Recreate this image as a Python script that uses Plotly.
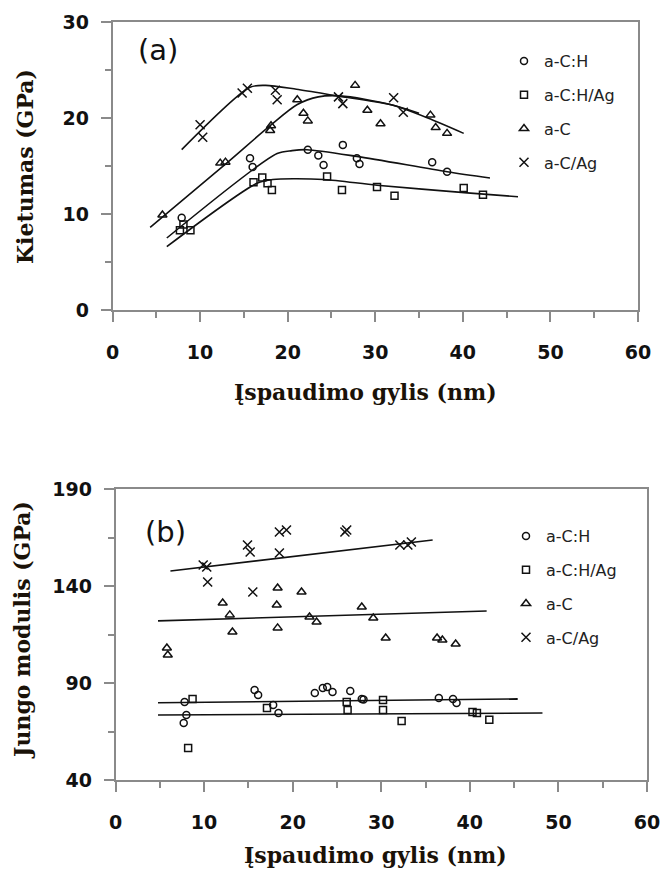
import plotly.graph_objects as go

# ---------------- Panel (a): hardness ----------------
a_ch_x = [7.9, 15.7, 16.0, 22.3, 23.5, 24.1, 26.3, 27.9, 28.2, 36.5, 38.2]
a_ch_y = [9.6, 15.8, 14.9, 16.7, 16.1, 15.1, 17.2, 15.8, 15.2, 15.4, 14.4]
a_chag_x = [7.7, 8.1, 8.9, 16.1, 17.1, 17.7, 18.2, 24.5, 26.2, 30.2, 32.2, 40.1, 42.3]
a_chag_y = [8.3, 8.9, 8.3, 13.3, 13.8, 13.2, 12.5, 13.9, 12.5, 12.8, 11.9, 12.7, 12.0]
a_c_x = [5.7, 12.3, 12.9, 18.0, 18.1, 21.1, 21.8, 22.3, 27.7, 29.1, 30.6, 36.3, 36.9, 38.2]
a_c_y = [9.9, 15.3, 15.4, 18.7, 19.2, 21.9, 20.5, 19.7, 23.4, 20.8, 19.4, 20.3, 19.0, 18.4]
a_cag_x = [10.0, 10.3, 14.8, 15.4, 18.6, 18.8, 25.8, 26.3, 32.1, 33.2]
a_cag_y = [19.3, 18.0, 22.6, 23.1, 22.9, 21.9, 22.2, 21.5, 22.1, 20.6]

fit_a_ch_x = [6.2, 18.8, 20.5, 22.2, 27.9, 38.2, 43.1]
fit_a_ch_y = [7.5, 16.3, 16.6, 16.7, 16.0, 14.4, 13.75]
fit_a_chag_x = [6.2, 16.5, 18.3, 24.1, 30.2, 40.5, 46.3]
fit_a_chag_y = [6.6, 13.2, 13.6, 13.6, 13.0, 12.2, 11.8]
fit_a_c_x = [4.3, 12.9, 18.0, 21.1, 23.5, 26.0, 31.7, 36.0, 40.1]
fit_a_c_y = [8.6, 15.2, 19.2, 21.4, 22.2, 22.3, 21.4, 20.0, 18.4]
fit_a_cag_x = [7.9, 15.7, 17.5, 21.0, 25.7, 31.7, 35.0]
fit_a_cag_y = [16.7, 23.2, 23.4, 23.0, 22.3, 21.4, 20.5]

# ---------------- Panel (b): Young's modulus ----------------
b_ch_x = [7.8, 8.0, 7.7, 15.7, 16.1, 17.8, 18.4, 22.5, 23.4, 23.9, 24.5, 26.5, 27.8, 28.0, 36.5, 38.1, 38.5]
b_ch_y = [80.2, 73.5, 69.4, 86.4, 83.8, 78.7, 74.5, 84.8, 87.4, 87.9, 85.4, 85.9, 81.8, 81.5, 82.3, 81.8, 79.7]
b_chag_x = [8.7, 8.2, 17.1, 26.1, 26.2, 30.2, 30.2, 32.3, 40.3, 40.8, 42.2]
b_chag_y = [81.8, 56.5, 77.1, 80.2, 76.1, 81.2, 76.1, 70.4, 75.0, 74.5, 71.0]
b_c_x = [5.8, 5.9, 12.1, 12.9, 13.2, 18.3, 18.2, 18.3, 21.0, 21.9, 22.7, 27.8, 29.1, 30.5, 36.3, 36.9, 38.4]
b_c_y = [108.0, 104.4, 131.2, 125.1, 116.3, 139.0, 130.2, 118.4, 136.9, 124.0, 121.4, 129.2, 123.5, 113.2, 113.2, 112.2, 110.1]
b_cag_x = [9.9, 10.3, 10.4, 14.9, 15.2, 15.5, 18.5, 19.3, 18.5, 25.9, 26.1, 32.1, 33.0, 33.4]
b_cag_y = [150.8, 149.8, 142.1, 161.1, 157.5, 136.9, 167.8, 168.9, 157.0, 167.8, 168.9, 161.1, 161.1, 162.7]

fit_b_ch_x = [4.8, 45.4]
fit_b_ch_y = [79.8, 81.8]
fit_b_chag_x = [4.8, 48.2]
fit_b_chag_y = [73.5, 74.5]
fit_b_c_x = [4.8, 41.9]
fit_b_c_y = [122.0, 127.1]
fit_b_cag_x = [6.2, 35.8]
fit_b_cag_y = [147.7, 163.7]

series_names = ["a-C:H", "a-C:H/Ag", "a-C", "a-C/Ag"]
x_ticks = [0, 10, 20, 30, 40, 50, 60]
ya_ticks = [0, 10, 20, 30]
yb_ticks = [40, 90, 140, 190]

W, H = 665, 872
def px(x):
    return x / W
def py(y):
    return 1 - y / H

symbols = ["circle-open", "square-open", "triangle-up-open", "x-thin-open"]
sizes = [7, 7, 8, 9]

fig = go.Figure()

panel_a = [(a_ch_x, a_ch_y), (a_chag_x, a_chag_y), (a_c_x, a_c_y), (a_cag_x, a_cag_y)]
fits_a = [(fit_a_ch_x, fit_a_ch_y), (fit_a_chag_x, fit_a_chag_y), (fit_a_c_x, fit_a_c_y), (fit_a_cag_x, fit_a_cag_y)]
panel_b = [(b_ch_x, b_ch_y), (b_chag_x, b_chag_y), (b_c_x, b_c_y), (b_cag_x, b_cag_y)]
fits_b = [(fit_b_ch_x, fit_b_ch_y), (fit_b_chag_x, fit_b_chag_y), (fit_b_c_x, fit_b_c_y), (fit_b_cag_x, fit_b_cag_y)]

for (fx, fy) in fits_a:
    fig.add_trace(go.Scatter(x=fx, y=fy, mode="lines", line=dict(color="#111", width=1.6, shape="spline", smoothing=0.8),
                             showlegend=False, hoverinfo="skip", xaxis="x", yaxis="y"))
for i, (sx, sy) in enumerate(panel_a):
    fig.add_trace(go.Scatter(x=sx, y=sy, mode="markers", name=series_names[i],
                             marker=dict(symbol=symbols[i], size=sizes[i], color="#111", line=dict(width=1.5, color="#111")),
                             legend="legend", legendgroup="a" + str(i), xaxis="x", yaxis="y"))

for (fx, fy) in fits_b:
    fig.add_trace(go.Scatter(x=fx, y=fy, mode="lines", line=dict(color="#111", width=1.6),
                             showlegend=False, hoverinfo="skip", xaxis="x2", yaxis="y2"))
for i, (sx, sy) in enumerate(panel_b):
    fig.add_trace(go.Scatter(x=sx, y=sy, mode="markers", name=series_names[i],
                             marker=dict(symbol=symbols[i], size=sizes[i], color="#111", line=dict(width=1.5, color="#111")),
                             legend="legend2", legendgroup="b" + str(i), xaxis="x2", yaxis="y2"))

axcol = "#8a8a8a"
tickfont = dict(family="DejaVu Sans", size=19, color="#111", weight="bold")

def xaxis(domain, anchor):
    return dict(domain=domain, anchor=anchor, range=[0, 60], tickvals=x_ticks, ticktext=[str(v) for v in x_ticks],
                showgrid=False, zeroline=False, showline=True, mirror=True, linecolor=axcol, linewidth=1.5,
                ticks="outside", ticklen=10, tickwidth=1.5, tickcolor=axcol, tickfont=tickfont,
                ticklabelstandoff=14, automargin=False,
                minor=dict(dtick=5, tick0=0, ticks="outside", ticklen=6, tickwidth=1.5, tickcolor=axcol, showgrid=False))

def yaxis(domain, anchor, rng, vals, mdt, mt0):
    return dict(domain=domain, anchor=anchor, range=rng, tickvals=vals, ticktext=[str(v) for v in vals],
                showgrid=False, zeroline=False, showline=True, mirror=True, linecolor=axcol, linewidth=1.5,
                ticks="outside", ticklen=10, tickwidth=1.5, tickcolor=axcol, tickfont=tickfont,
                ticklabelstandoff=8, automargin=False,
                minor=dict(dtick=mdt, tick0=mt0, ticks="outside", ticklen=6, tickwidth=1.5, tickcolor=axcol, showgrid=False))

legfont = dict(family="DejaVu Sans", size=16, color="#222")

fig.update_layout(
    width=W, height=H,
    margin=dict(l=0, r=0, t=0, b=0, pad=0),
    paper_bgcolor="white", plot_bgcolor="white",
    xaxis=xaxis([px(112.5), px(638)], "y"),
    yaxis=yaxis([py(310), py(22)], "x", [0, 30], ya_ticks, 5, 0),
    xaxis2=xaxis([px(115.5), px(647)], "y2"),
    yaxis2=yaxis([py(780), py(489)], "x2", [40, 190], yb_ticks, 25, 40),
    legend=dict(x=px(504), y=py(44), xanchor="left", yanchor="top", bgcolor="rgba(0,0,0,0)",
                font=legfont, tracegroupgap=10, itemwidth=30),
    legend2=dict(x=px(506), y=py(519), xanchor="left", yanchor="top", bgcolor="rgba(0,0,0,0)",
                 font=legfont, tracegroupgap=10, itemwidth=30),
    showlegend=True,
)

titlefont = dict(family="DejaVu Serif", size=22, color="#1a1208")
ann = [
    dict(text="(a)", x=px(158), y=py(50), font=dict(family="DejaVu Sans", size=29, color="#111")),
    dict(text="(b)", x=px(165), y=py(532), font=dict(family="DejaVu Sans", size=29, color="#111")),
    dict(text="<b>Kietumas (GPa)</b>", x=px(25), y=py(167), textangle=-90, font=titlefont),
    dict(text="<b>Jungo modulis (GPa)</b>", x=px(22), y=py(630), textangle=-90, font=titlefont),
    dict(text="<b>Įspaudimo gylis (nm)</b>", x=px(365), y=py(392), font=titlefont),
    dict(text="<b>Įspaudimo gylis (nm)</b>", x=px(375), y=py(855), font=titlefont),
]
for a in ann:
    fig.add_annotation(xref="paper", yref="paper", showarrow=False, xanchor="center", yanchor="middle", **a)

fig.write_html("out.html", config={"displayModeBar": False},
               post_script="document.body.style.margin='0';document.body.style.overflow='hidden';")
